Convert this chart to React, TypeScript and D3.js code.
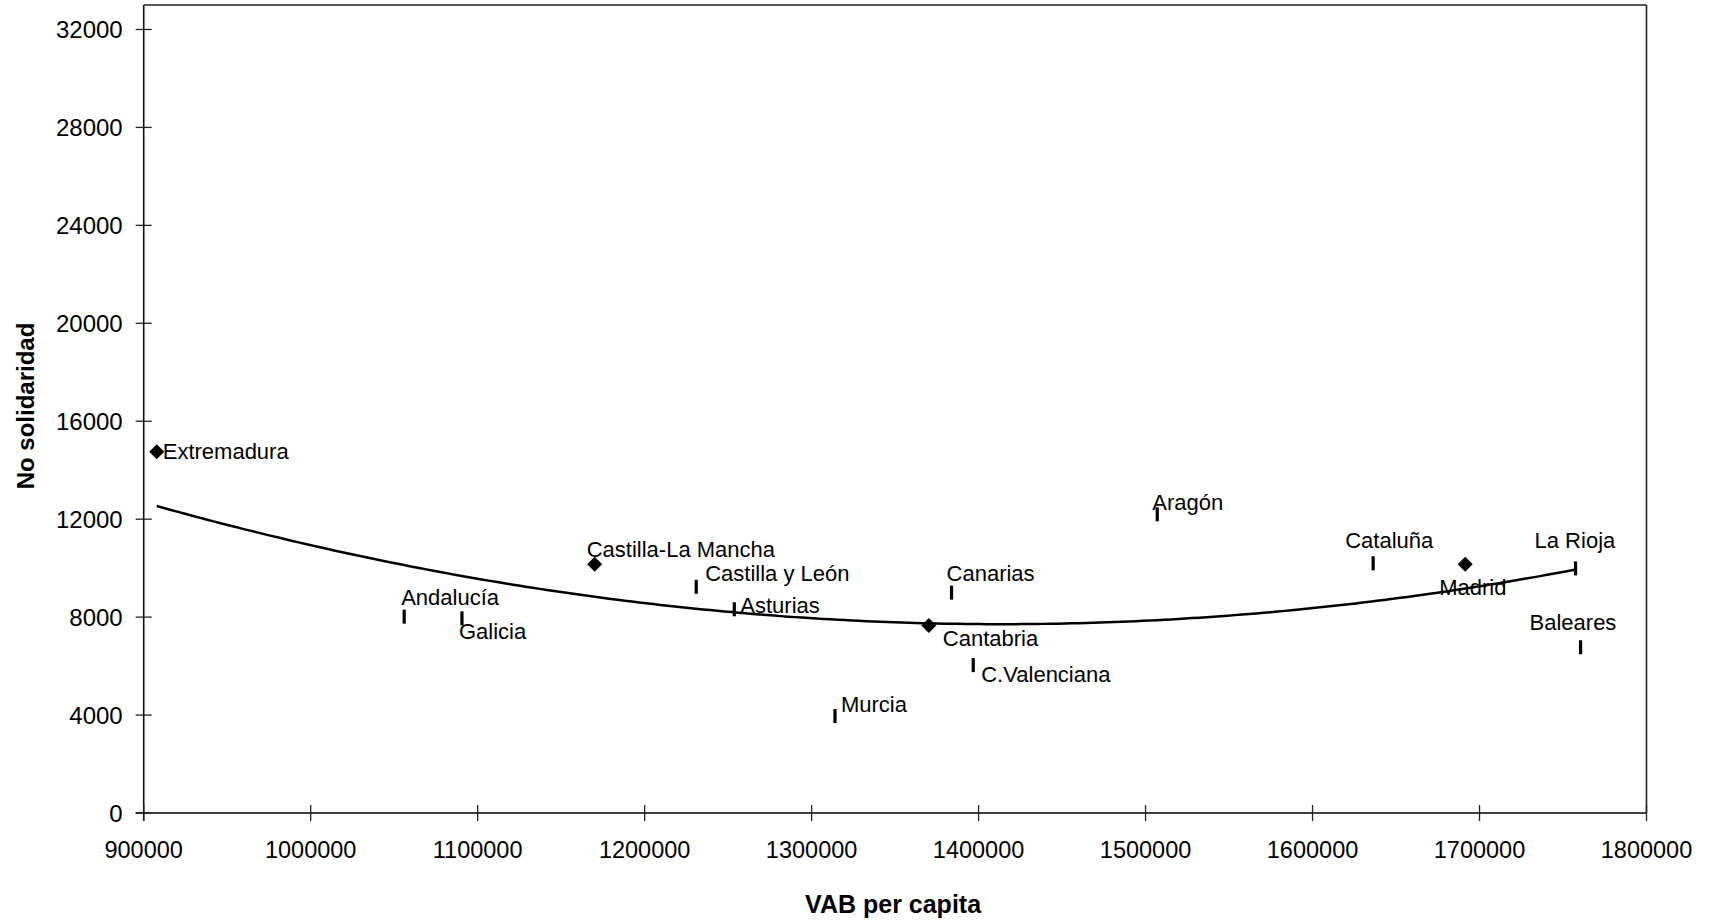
import React from "react";
import * as d3 from "d3";

const regions = [
  "Extremadura", "Andalucía", "Galicia", "Castilla-La Mancha", "Castilla y León",
  "Asturias", "Murcia", "Cantabria", "Canarias", "C.Valenciana", "Aragón",
  "Cataluña", "Madrid", "La Rioja", "Baleares",
];
const vabPerCapita = [
  907800, 1056000, 1090600, 1170100, 1230900,
  1253700, 1314000, 1370200, 1383800, 1396800, 1507000,
  1636300, 1691400, 1757500, 1760500,
];
const noSolidaridad = [
  14750, 8020, 7950, 10160, 9240,
  8320, 3960, 7660, 9000, 6040, 12200,
  10200, 10160, 9990, 6770,
];
const markerKind = [
  "diamond", "bar", "bar", "diamond", "bar",
  "bar", "bar", "diamond", "bar", "bar", "bar",
  "bar", "diamond", "bar", "bar",
];
const xTicks = [900000, 1000000, 1100000, 1200000, 1300000, 1400000, 1500000, 1600000, 1700000, 1800000];
const yTicks = [0, 4000, 8000, 12000, 16000, 20000, 24000, 28000, 32000];

// label offsets (layout) relative to each marker: [dx, dy]
const labelOffsets: [number, number][] = [
  [6, 0], [-3, -19], [-3, 14], [-8, -14], [9, -13],
  [6, -3], [6, -11], [14, 14], [-5, -19], [8, 10], [-5, -11],
  [-28, -22], [-26, 24], [-41, -27], [-51, -24],
];

const W = 1718, H = 922;
const M = { left: 143.7, right: 1646.5, top: 5, bottom: 813 };
const FONT = "'Liberation Sans', Arial, sans-serif";

function quadFit(xs: number[], ys: number[]) {
  const n = xs.length;
  const mx = d3.mean(xs)!;
  const sx = 100000;
  const u = xs.map((x) => (x - mx) / sx);
  let s0 = n, s1 = 0, s2 = 0, s3 = 0, s4 = 0, t0 = 0, t1 = 0, t2 = 0;
  u.forEach((v, i) => {
    s1 += v; s2 += v * v; s3 += v * v * v; s4 += v * v * v * v;
    t0 += ys[i]; t1 += v * ys[i]; t2 += v * v * ys[i];
  });
  const A = [[s0, s1, s2, t0], [s1, s2, s3, t1], [s2, s3, s4, t2]];
  for (let c = 0; c < 3; c++) {
    for (let r = c + 1; r < 3; r++) {
      const f = A[r][c] / A[c][c];
      for (let k = c; k < 4; k++) A[r][k] -= f * A[c][k];
    }
  }
  const b = [0, 0, 0];
  for (let r = 2; r >= 0; r--) {
    let s = A[r][3];
    for (let k = r + 1; k < 3; k++) s -= A[r][k] * b[k];
    b[r] = s / A[r][r];
  }
  return (x: number) => {
    const v = (x - mx) / sx;
    return b[0] + b[1] * v + b[2] * v * v;
  };
}

export default function App() {
  const x = d3.scaleLinear().domain([900000, 1800000]).range([M.left, M.right]);
  const y = d3.scaleLinear().domain([0, 33000]).range([M.bottom, M.top]);
  const f = quadFit(vabPerCapita, noSolidaridad);
  const x0 = d3.min(vabPerCapita)!;
  const x1 = vabPerCapita[regions.indexOf("La Rioja")];
  const pts = d3.range(0, 201).map((i) => x0 + ((x1 - x0) * i) / 200);
  const line = d3.line<number>().x((d) => x(d)).y((d) => y(f(d))).curve(d3.curveLinear);

  return (
    <svg width={W} height={H} style={{ position: "absolute", left: 0, top: 0, background: "#fff" }} fontFamily={FONT}>
      <rect x={0} y={0} width={W} height={H} fill="#fff" />
      <line x1={M.left} x2={M.right} y1={M.top} y2={M.top} stroke="#222" strokeWidth={1.6} />
      <line x1={M.right} x2={M.right} y1={M.top} y2={M.bottom} stroke="#222" strokeWidth={1.6} />
      <line x1={M.left} x2={M.left} y1={M.top} y2={M.bottom + 8} stroke="#111" strokeWidth={1.6} />
      <line x1={M.left - 8} x2={M.right} y1={M.bottom} y2={M.bottom} stroke="#404040" strokeWidth={2.2} />
      {yTicks.map((t) => (
        <g key={"y" + t}>
          <line x1={M.left - 8} x2={M.left + 8} y1={y(t)} y2={y(t)} stroke="#222" strokeWidth={1.3} />
          <text x={M.left - 21} y={y(t) + 8.5} fontSize={24} textAnchor="end" fill="#000">{t}</text>
        </g>
      ))}
      {xTicks.map((t) => (
        <g key={"x" + t}>
          <line x1={x(t)} x2={x(t)} y1={M.bottom - 8} y2={M.bottom + 8} stroke="#222" strokeWidth={1.3} />
          <text x={x(t)} y={858} fontSize={23.5} textAnchor="middle" fill="#000">{t}</text>
        </g>
      ))}
      <text x={(M.left + M.right) / 2 - 2} y={913} fontSize={25} fontWeight="bold" textAnchor="middle">VAB per capita</text>
      <text transform={`translate(34,406) rotate(-90)`} fontSize={24} fontWeight="bold" textAnchor="middle">No solidaridad</text>
      <path d={line(pts) || ""} fill="none" stroke="#000" strokeWidth={2.5} />
      {regions.map((r, i) => {
        const cx = x(vabPerCapita[i]);
        const cy = y(noSolidaridad[i]);
        const [dx, dy] = labelOffsets[i];
        const s = 7.5;
        return (
          <g key={r}>
            {markerKind[i] === "diamond" ? (
              <path d={`M${cx},${cy - s}L${cx + s},${cy}L${cx},${cy + s}L${cx - s},${cy}Z`} fill="#000" />
            ) : (
              <rect x={cx - 1.6} y={cy - 7} width={3.2} height={14} fill="#000" />
            )}
            <text x={cx + dx} y={cy + dy + 7} fontSize={22} fill="#000">{r}</text>
          </g>
        );
      })}
    </svg>
  );
}
